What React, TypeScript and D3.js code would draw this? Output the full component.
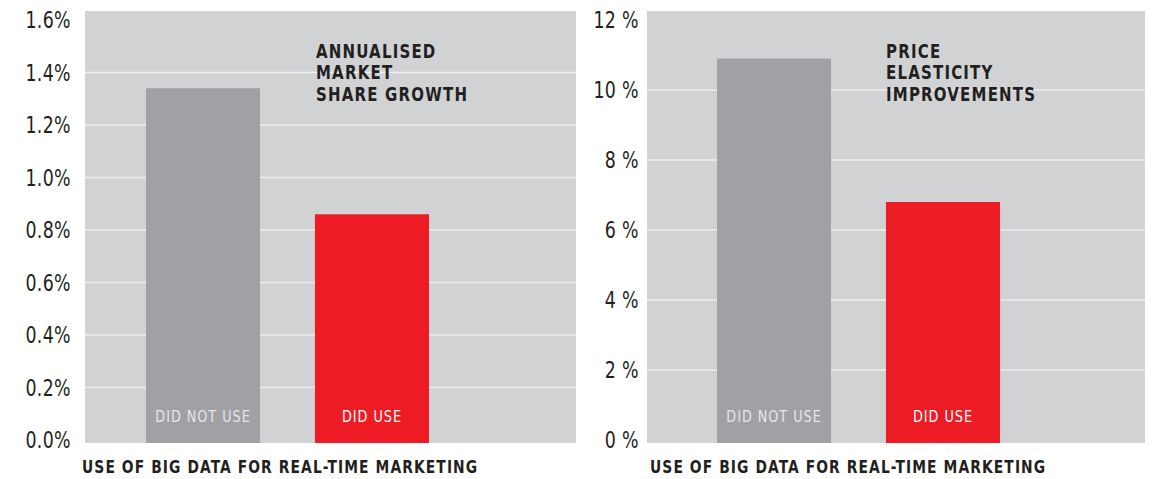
import React from 'react';
import * as d3 from 'd3';

const categories = ['DID NOT USE', 'DID USE'];
const marketShareValues = [1.34, 0.86];
const marketShareTicks = [0, 0.2, 0.4, 0.6, 0.8, 1.0, 1.2, 1.4, 1.6];
const marketShareTickLabels = ['0.0%', '0.2%', '0.4%', '0.6%', '0.8%', '1.0%', '1.2%', '1.4%', '1.6%'];
const marketShareTitle = ['ANNUALISED', 'MARKET', 'SHARE GROWTH'];

const elasticityValues = [10.9, 6.8];
const elasticityTicks = [0, 2, 4, 6, 8, 10, 12];
const elasticityTickLabels = ['0 %', '2 %', '4 %', '6 %', '8 %', '10 %', '12 %'];
const elasticityTitle = ['PRICE', 'ELASTICITY', 'IMPROVEMENTS'];

const xAxisTitle = 'USE OF BIG DATA FOR REAL-TIME MARKETING';

const FONT = '"DejaVu Sans Condensed", "DejaVu Sans", sans-serif';
const BG = '#d1d2d4';
const GRID = '#eeeeef';
const GREY = '#a0a1a5';
const RED = '#ed1c24';
const TEXT = '#231f20';

const PLOT_TOP = 11;
const PLOT_BOTTOM = 443;
const Y_ZERO = 440;
const Y_MAX = 20;

type PanelProps = {
  values: number[];
  ticks: number[];
  tickLabels: string[];
  title: string[];
  plotLeft: number;
  plotRight: number;
  barStart: number;
  labelRight: number;
  titleX: number;
  axisTitleX: number;
};

function Panel({ values, ticks, tickLabels, title, plotLeft, plotRight, barStart, labelRight, titleX, axisTitleX }: PanelProps) {
  const y = d3.scaleLinear().domain([0, ticks[ticks.length - 1]]).range([Y_ZERO, Y_MAX]);
  const x = d3.scaleBand<string>().domain(categories).range([barStart, barStart + 283]).paddingInner(0.325).paddingOuter(0);
  const colors = [GREY, RED];
  const labelColors = ['#e6e6e7', '#ffffff'];
  return (
    <g>
      <rect x={plotLeft} y={PLOT_TOP} width={plotRight - plotLeft} height={PLOT_BOTTOM - PLOT_TOP} fill={BG} />
      {ticks.slice(1, -1).map((t) => (
        <line key={t} x1={plotLeft} x2={plotRight} y1={y(t)} y2={y(t)} stroke={GRID} strokeWidth={1.6} />
      ))}
      {ticks.map((t, i) => (
        <text
          key={'l' + t}
          transform={`translate(${labelRight},${y(t)}) scale(0.86,1)`}
          dy="0.36em"
          textAnchor="end"
          fontFamily={FONT}
          fontSize={22.5}
          letterSpacing={0.4}
          fill={TEXT}
        >
          {tickLabels[i]}
        </text>
      ))}
      {categories.map((c, i) => (
        <g key={c}>
          <rect x={x(c)} y={y(values[i])} width={x.bandwidth()} height={PLOT_BOTTOM - y(values[i])} fill={colors[i]} />
          <text
            transform={`translate(${(x(c) as number) + x.bandwidth() / 2},422) scale(0.89,1)`}
            textAnchor="middle"
            fontFamily={FONT}
            fontSize={16}
            letterSpacing={1.1}
            fill={labelColors[i]}
          >
            {c}
          </text>
        </g>
      ))}
      {title.map((line, i) => (
        <text
          key={line}
          transform={`translate(${titleX},${58 + i * 21.4}) scale(0.855,1)`}
          fontFamily={FONT}
          fontWeight="bold"
          fontSize={19.5}
          letterSpacing={1.4}
          fill={TEXT}
        >
          {line}
        </text>
      ))}
      <text
        transform={`translate(${axisTitleX},473) scale(0.906,1)`}
        fontFamily={FONT}
        fontWeight="bold"
        fontSize={17}
        letterSpacing={1.2}
        fill={TEXT}
      >
        {xAxisTitle}
      </text>
    </g>
  );
}

export default function App() {
  return (
    <svg width={1156} height={479} style={{ position: 'absolute', left: 0, top: 0, background: '#fff' }}>
      <Panel
        values={marketShareValues}
        ticks={marketShareTicks}
        tickLabels={marketShareTickLabels}
        title={marketShareTitle}
        plotLeft={85}
        plotRight={576}
        barStart={146}
        labelRight={71}
        titleX={316}
        axisTitleX={82}
      />
      <Panel
        values={elasticityValues}
        ticks={elasticityTicks}
        tickLabels={elasticityTickLabels}
        title={elasticityTitle}
        plotLeft={647}
        plotRight={1145}
        barStart={717}
        labelRight={639}
        titleX={886}
        axisTitleX={650}
      />
    </svg>
  );
}
